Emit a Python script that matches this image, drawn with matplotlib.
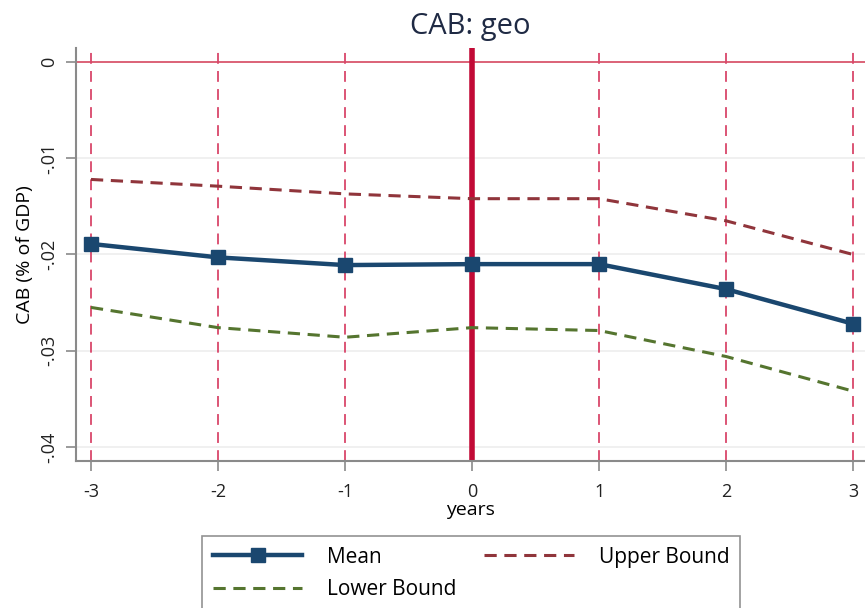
import numpy as np
import matplotlib.pyplot as plt

# data
years = [-3, -2, -1, 0, 1, 2, 3]
mean = [-0.0189, -0.0203, -0.0211, -0.0210, -0.0210, -0.0236, -0.0272]
upper = [-0.0122, -0.0129, -0.0137, -0.0142, -0.0142, -0.0165, -0.0200]
lower = [-0.0255, -0.0276, -0.0286, -0.0276, -0.0279, -0.0306, -0.0342]
yticks = [0, -0.01, -0.02, -0.03, -0.04]
ytick_labels = ['0', '-.01', '-.02', '-.03', '-.04']

plt.rcParams['font.family'] = ['Open Sans', 'DejaVu Sans']

fig = plt.figure(figsize=(8.65, 6.08), dpi=100)
ax = fig.add_axes([76/865, 147/608, 1 - 76/865, 413/608])

# grid
for v in yticks[1:]:
    ax.axhline(v, color='#eeeeee', lw=1.2, zorder=0)
ax.axhline(0, color='#d9566c', lw=1.3, zorder=1)

# vertical reference lines
for x in years:
    if x == 0:
        continue
    ax.axvline(x, color='#d9466a', lw=1.3, ls=(0, (6, 4)), zorder=1)
ax.axvline(0, color='#c20a36', lw=4, zorder=2)

ax.plot(years, mean, color='#1a476f', lw=3.2, marker='s', markersize=10, zorder=4, label='Mean')
ax.plot(years, lower, color='#55752f', lw=2.2, ls=(0, (4, 2.5)), zorder=3, label='Lower Bound')
ax.plot(years, upper, color='#90353b', lw=2.2, ls=(0, (4, 2.5)), zorder=3, label='Upper Bound')

ax.set_xlim(-3.118, 3.094)
ax.set_ylim(-0.04146, 0.00146)
ax.set_xticks(years)
ax.set_xticklabels([str(y) for y in years], fontsize=13)
ax.set_yticks(yticks)
ax.set_yticklabels(ytick_labels, fontsize=13, rotation=90, va='center')

for s in ['top', 'right']:
    ax.spines[s].set_visible(False)
for s in ['left', 'bottom']:
    ax.spines[s].set_color('#8a8a8a')
    ax.spines[s].set_linewidth(1.5)
ax.tick_params(axis='both', length=7, width=1.2, color='#8a8a8a', labelcolor='#222222')
ax.tick_params(axis='x', pad=9)
ax.tick_params(axis='y', pad=6)

ax.set_title('CAB: geo', fontsize=21, color='#1f2a44', pad=10)
ax.set_xlabel('years', fontsize=14, labelpad=0)
ax.set_ylabel('CAB (% of GDP)', fontsize=14, labelpad=4)

leg = fig.legend(ncol=2, loc='lower center', bbox_to_anchor=(471/865, -0.004),
                 fontsize=15, frameon=True, fancybox=False, edgecolor='#777777',
                 handlelength=4.3, columnspacing=1.3, handletextpad=1.2,
                 labelspacing=0.55, borderpad=0.5, borderaxespad=0)
leg.get_frame().set_linewidth(1.2)

fig.savefig('out.png', dpi=100)
